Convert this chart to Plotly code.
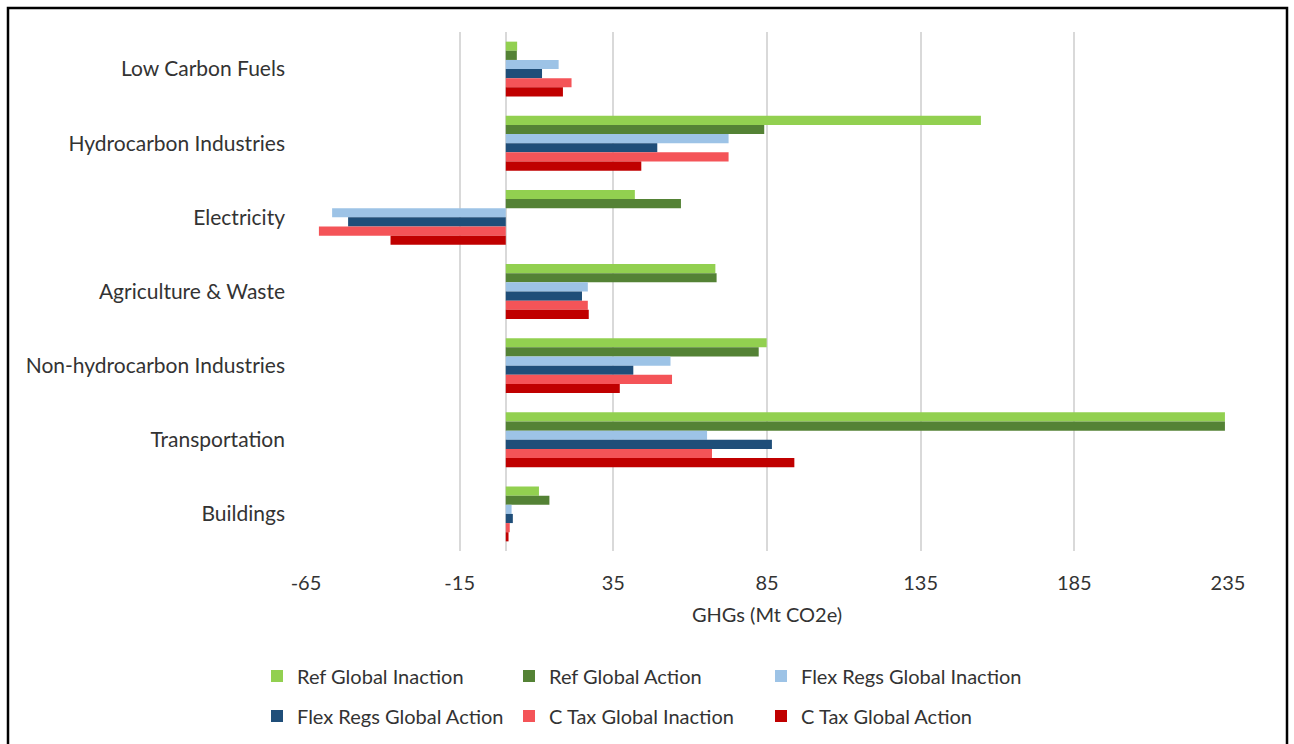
import plotly.graph_objects as go

categories = ["Low Carbon Fuels", "Hydrocarbon Industries", "Electricity",
              "Agriculture & Waste", "Non-hydrocarbon Industries",
              "Transportation", "Buildings"]

series_names = ["Ref Global Inaction", "Ref Global Action",
                "Flex Regs Global Inaction", "Flex Regs Global Action",
                "C Tax Global Inaction", "C Tax Global Action"]

ref_inaction = [3.7, 154.6, 42.0, 68.2, 84.9, 234.0, 10.8]
ref_action = [3.6, 84.1, 57.0, 68.6, 82.3, 234.0, 14.2]
flex_inaction = [17.2, 72.5, -56.5, 26.7, 53.6, 65.5, 1.9]
flex_action = [11.8, 49.3, -51.3, 24.8, 41.5, 86.6, 2.3]
ctax_inaction = [21.4, 72.5, -60.8, 26.7, 54.1, 67.1, 1.3]
ctax_action = [18.6, 44.1, -37.5, 27.0, 37.1, 93.9, 0.9]

x_ticks = [-65, -15, 35, 85, 135, 185, 235]

series_values = [ref_inaction, ref_action, flex_inaction,
                 flex_action, ctax_inaction, ctax_action]
colors = ["#92D050", "#548235", "#9DC3E6", "#1F4E79", "#F45458", "#C00000"]

W, H = 1294, 744
ML, MR, MT, MB = 306, 66, 32, 193
FONT = "Lato"
TXT = "#333333"

fig = go.Figure()
for i, (name, vals, col) in enumerate(zip(series_names, series_values, colors)):
    fig.add_trace(go.Bar(
        y=categories, x=vals, name=name, orientation="h",
        marker=dict(color=col, line=dict(width=0)),
        legend="legend" if i < 3 else "legend2",
        legendwidth=207 if i % 3 < 2 else 260,
    ))

pw = W - ML - MR
ph = H - MT - MB

fig.update_layout(
    width=W, height=H,
    margin=dict(l=ML, r=MR, t=MT, b=MB),
    paper_bgcolor="white", plot_bgcolor="white",
    barmode="group", bargap=0.26, bargroupgap=0,
    font=dict(family=FONT, size=20, color=TXT),
    xaxis=dict(
        range=[-65, 235], tickvals=x_ticks, ticktext=[str(v) for v in x_ticks],
        showgrid=True, gridcolor="#D9D9D9", gridwidth=2,
        zeroline=True, zerolinecolor="#D9D9D9", zerolinewidth=2,
        showline=False, ticks="", ticklabelstandoff=18,
        tickfont=dict(size=20, color=TXT),
        title=dict(text="GHGs (Mt CO2e)", font=dict(size=20, color=TXT), standoff=14),
        automargin=False,
    ),
    yaxis=dict(
        autorange="reversed", showgrid=False, zeroline=False, showline=False,
        ticks="", ticklabelstandoff=20,
        tickfont=dict(size=21, color=TXT), automargin=False,
    ),
    legend=dict(
        orientation="h", xref="container", yref="container",
        x=257 / W, y=1 - 676 / H, xanchor="left", yanchor="middle",
        font=dict(size=20, color=TXT), bgcolor="rgba(0,0,0,0)",
    ),
    legend2=dict(
        orientation="h", xref="container", yref="container",
        x=257 / W, y=1 - 716 / H, xanchor="left", yanchor="middle",
        font=dict(size=20, color=TXT), bgcolor="rgba(0,0,0,0)",
    ),
    showlegend=True,
)

# outer frame of the chart image
fig.add_shape(
    type="rect", xref="paper", yref="paper",
    x0=(8 - ML) / pw, x1=(1287 - ML) / pw,
    y0=1 - (760 - MT) / ph, y1=1 - (8 - MT) / ph,
    line=dict(color="black", width=2.5), fillcolor="rgba(0,0,0,0)", layer="below",
)

fig.write_html("out.html")
